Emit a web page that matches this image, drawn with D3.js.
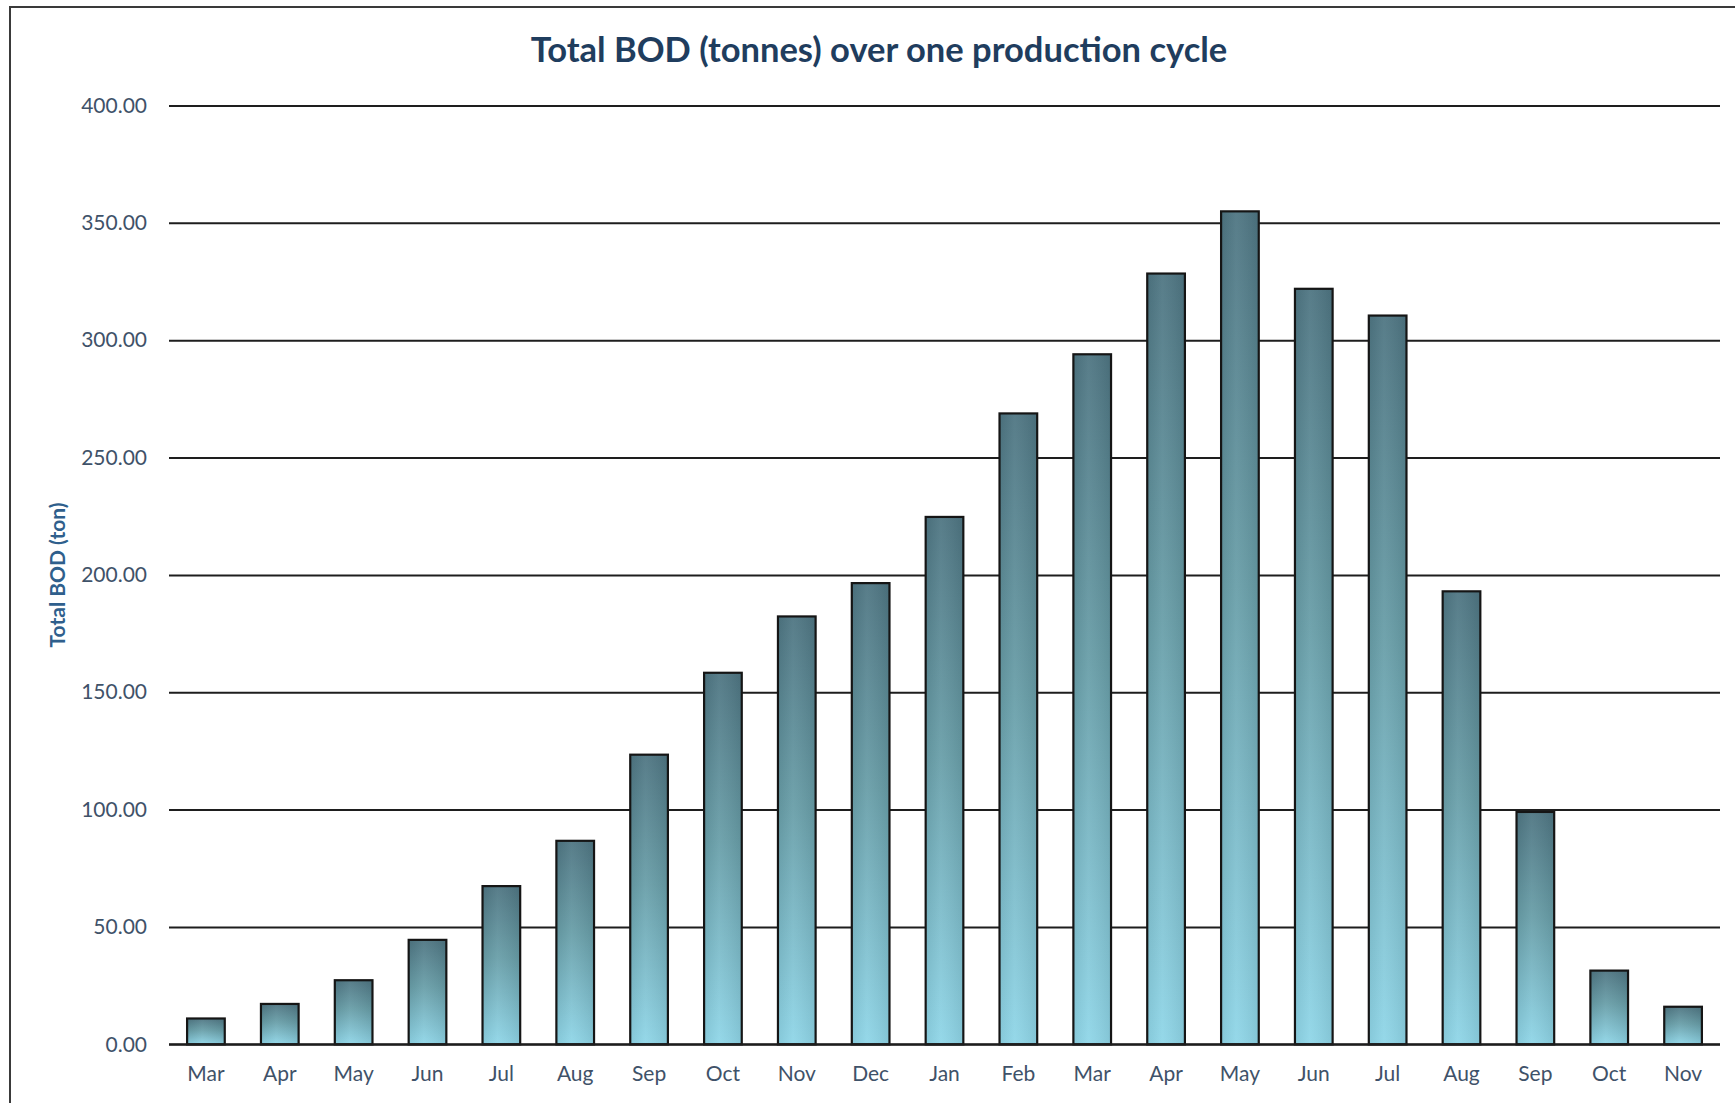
<!DOCTYPE html>
<html>
<head>
<meta charset="utf-8">
<script src="https://cdn.jsdelivr.net/npm/d3@7"></script>
<style>
  html, body { margin: 0; padding: 0; background: #ffffff; }
  svg { display: block; }
</style>
</head>
<body>
<svg id="chart" width="1735" height="1103"></svg>
<script>
// ---- data ----
const categories = ["Mar","Apr","May","Jun","Jul","Aug","Sep","Oct","Nov","Dec","Jan","Feb","Mar","Apr","May","Jun","Jul","Aug","Sep","Oct","Nov"];
const bodValues = [11, 17.2, 27.3, 44.5, 67.4, 86.7, 123.4, 158.3, 182.3, 196.5, 224.7, 268.8, 294, 328.4, 354.9, 321.9, 310.5, 193, 99, 31.4, 16];
const yTicks = [0, 50, 100, 150, 200, 250, 300, 350, 400];
const titleText = "Total BOD (tonnes) over one production cycle";
const yAxisTitle = "Total BOD (ton)";

// ---- layout ----
const W = 1735, H = 1103;
const plot = { left: 169, right: 1720, top: 105.5, bottom: 1044.3 };
const svg = d3.select("#chart");

svg.append("rect").attr("x", 0).attr("y", 0).attr("width", W).attr("height", H).attr("fill", "#ffffff");
// outer frame (extends past right/bottom edges like the reference crop)
svg.append("rect")
  .attr("x", 10).attr("y", 7).attr("width", W + 20).attr("height", H + 20)
  .attr("fill", "none").attr("stroke", "#3a3a3a").attr("stroke-width", 2);

const keys = categories.map((c, i) => i);
const x = d3.scaleBand().domain(keys).range([plot.left, plot.right]).paddingInner(0.49).paddingOuter(0.245);
const y = d3.scaleLinear().domain([0, 400]).range([plot.bottom, plot.top]);

// gradient
const defs = svg.append("defs");
const grad = defs.append("linearGradient").attr("id", "barGrad")
  .attr("x1", 0).attr("y1", 0).attr("x2", 0).attr("y2", 1);
grad.append("stop").attr("offset", "0%").attr("stop-color", "#4e7582");
grad.append("stop").attr("offset", "45%").attr("stop-color", "#689ea8");
grad.append("stop").attr("offset", "100%").attr("stop-color", "#8fd6e8");
const hgrad = defs.append("linearGradient").attr("id", "barShine")
  .attr("x1", 0).attr("y1", 0).attr("x2", 1).attr("y2", 0);
hgrad.append("stop").attr("offset", "0%").attr("stop-color", "#000").attr("stop-opacity", 0.06);
hgrad.append("stop").attr("offset", "40%").attr("stop-color", "#fff").attr("stop-opacity", 0.06);
hgrad.append("stop").attr("offset", "100%").attr("stop-color", "#000").attr("stop-opacity", 0.08);

// y axis (gridlines + labels)
const yAxis = d3.axisLeft(y).tickValues(yTicks).tickFormat(d3.format(".2f"))
  .tickSize(-(plot.right - plot.left)).tickPadding(22);
const gy = svg.append("g").attr("transform", `translate(${plot.left},0)`).call(yAxis);
gy.select(".domain").remove();
gy.selectAll(".tick line").attr("stroke", "#1e1e1e").attr("stroke-width", 2);
gy.selectAll(".tick text")
  .attr("fill", "#3f5269").style("font-family", "Lato, 'Open Sans', sans-serif").style("font-size", "21px");

// bars
const bars = svg.append("g");
bars.selectAll("rect.bar").data(bodValues).join("rect")
  .attr("class", "bar")
  .attr("x", (d, i) => x(i)).attr("width", x.bandwidth())
  .attr("y", d => y(d)).attr("height", d => y(0) - y(d))
  .attr("fill", "url(#barGrad)");
bars.selectAll("rect.shine").data(bodValues).join("rect")
  .attr("class", "shine")
  .attr("x", (d, i) => x(i)).attr("width", x.bandwidth())
  .attr("y", d => y(d)).attr("height", d => y(0) - y(d))
  .attr("fill", "url(#barShine)")
  .attr("stroke", "#151515").attr("stroke-width", 2.2);

// baseline
svg.append("line").attr("x1", plot.left).attr("x2", plot.right)
  .attr("y1", y(0)).attr("y2", y(0)).attr("stroke", "#1e1e1e").attr("stroke-width", 2);

// x axis labels
const xAxis = d3.axisBottom(x).tickFormat(i => categories[i]).tickSize(0).tickPadding(22);
const gx = svg.append("g").attr("transform", `translate(0,${plot.bottom})`).call(xAxis);
gx.select(".domain").remove();
gx.selectAll(".tick text")
  .attr("fill", "#3f5269").style("font-family", "Lato, 'Open Sans', sans-serif").style("font-size", "21px");

// title
svg.append("text").attr("x", 879).attr("y", 62).attr("text-anchor", "middle")
  .attr("fill", "#1f3d5e").style("font-family", "Lato, 'Open Sans', sans-serif")
  .style("font-weight", "bold").style("font-size", "34.5px").text(titleText);

// y axis title
svg.append("text").attr("transform", "translate(65,575) rotate(-90)").attr("text-anchor", "middle")
  .attr("fill", "#2f5f8c").style("font-family", "Lato, 'Open Sans', sans-serif")
  .style("font-weight", "bold").style("font-size", "21px").text(yAxisTitle);
</script>
</body>
</html>
